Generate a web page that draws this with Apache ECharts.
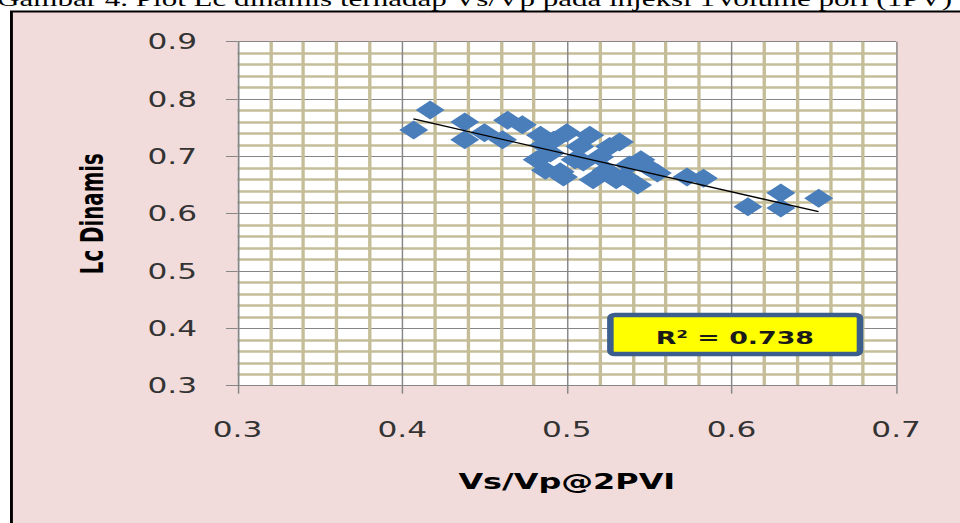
<!DOCTYPE html>
<html>
<head>
<meta charset="utf-8">
<script src="https://cdn.jsdelivr.net/npm/echarts@6/dist/echarts.min.js"></script>
<style>
html,body{margin:0;padding:0;overflow:hidden;background:#fff;width:960px;height:523px;}
#c{position:absolute;left:0;top:0;width:662px;height:523px;transform:scaleX(1.4502);transform-origin:0 0;}
</style>
</head>
<body>
<div id="c"></div>
<script>
const chartTitle = 'Gambar 4. Plot Lc dinamis terhadap Vs/Vp pada injeksi 1Volume pori (1PV)';
const xAxisName = 'Vs/Vp@2PVI';
const yAxisName = 'Lc Dinamis';
const r2Label = 'R\u00B2 = 0.738';

const xTicks = [0.3, 0.4, 0.5, 0.6, 0.7];
const yTicks = [0.3, 0.4, 0.5, 0.6, 0.7, 0.8, 0.9];

const xValues = [0.407, 0.417, 0.438, 0.438, 0.450, 0.464, 0.461, 0.473, 0.484, 0.482,
                 0.490, 0.486, 0.492, 0.500, 0.496, 0.498, 0.508, 0.505, 0.514, 0.520,
                 0.524, 0.516, 0.526, 0.530, 0.532, 0.538, 0.543, 0.545, 0.549, 0.555,
                 0.487, 0.510, 0.535, 0.573, 0.583, 0.610, 0.630, 0.630, 0.653];
const yValues = [0.746, 0.781, 0.760, 0.729, 0.741, 0.763, 0.729, 0.755, 0.737, 0.694,
                 0.706, 0.720, 0.728, 0.741, 0.673, 0.664, 0.717, 0.694, 0.737, 0.699,
                 0.676, 0.659, 0.717, 0.659, 0.725, 0.685, 0.650, 0.694, 0.682, 0.671,
                 0.676, 0.690, 0.665, 0.664, 0.662, 0.612, 0.636, 0.610, 0.627];

const trendX = [0.4068, 0.6529];
const trendY = [0.7652, 0.6035];

const points = xValues.map((x, i) => [x, yValues[i]]);
const trend = trendX.map((x, i) => [x, trendY[i]]);

const chart = echarts.init(document.getElementById('c'), null, {renderer: 'svg'});
chart.setOption({
  animation: false,
  grid: {left: 163.8, top: 41.7, width: 454.1, height: 344, show: true, backgroundColor: '#ffffff', borderWidth: 0},
  graphic: [
    {type: 'rect', z: -10, shape: {x: 7.9, y: 11.5, width: 720, height: 580},
     style: {fill: '#F2DCDB', stroke: '#000000', lineWidth: 2}},
    {type: 'text', z: -9, x: -2, y: 9.6,
     style: {text: chartTitle, font: '21.4px "Liberation Serif"', fill: '#000000', verticalAlign: 'bottom'}},
    {type: 'rect', z: 100, shape: {x: 420.9, y: 315, width: 172.1, height: 39, r: 3},
     style: {fill: '#FFFF00', stroke: '#3B5E8C', lineWidth: 4.5}},
    {type: 'text', z: 101, x: 506.7, y: 338,
     style: {text: r2Label, font: 'bold 18.5px "DejaVu Sans"', fill: '#1a1a1a', align: 'center', verticalAlign: 'middle'}}
  ],
  xAxis: {
    type: 'value', min: xTicks[0], max: xTicks[xTicks.length - 1], interval: 0.1,
    name: xAxisName, nameLocation: 'middle', nameGap: 84.6,
    nameTextStyle: {fontFamily: 'DejaVu Sans', fontWeight: 'bold', fontSize: 22, color: '#000'},
    axisLine: {show: true, onZero: false, lineStyle: {color: '#868686', width: 1}},
    axisTick: {show: true, length: 8, lineStyle: {color: '#868686'}},
    axisLabel: {margin: 32.5, fontFamily: 'DejaVu Sans', fontSize: 21.5, color: '#333', formatter: v => v.toFixed(1)},
    splitLine: {show: true, lineStyle: {color: '#868686', width: 1}},
    minorTick: {show: false, splitNumber: 5},
    minorSplitLine: {show: true, lineStyle: {color: '#C4BD97', width: 2.3}}
  },
  yAxis: {
    type: 'value', min: yTicks[0], max: yTicks[yTicks.length - 1], interval: 0.1,
    name: yAxisName, nameLocation: 'middle', nameGap: 89.5,
    nameTextStyle: {fontFamily: '"Liberation Sans Narrow","DejaVu Sans Condensed"', fontWeight: 'bold', fontSize: 22, color: '#000'},
    axisLine: {show: true, onZero: false, lineStyle: {color: '#868686', width: 1}},
    axisTick: {show: true, length: 8, lineStyle: {color: '#868686'}},
    axisLabel: {margin: 27.9, fontFamily: 'DejaVu Sans', fontSize: 21.5, color: '#333', formatter: v => v.toFixed(1)},
    splitLine: {show: true, lineStyle: {color: '#868686', width: 1}},
    minorTick: {show: false, splitNumber: 5},
    minorSplitLine: {show: true, lineStyle: {color: '#C4BD97', width: 2.7}}
  },
  series: [
    {type: 'scatter', data: points, symbol: 'diamond', symbolSize: [20, 19],
     itemStyle: {color: '#4A7EBB', opacity: 1}, z: 2},
    {type: 'line', data: trend, symbol: 'none', silent: true,
     lineStyle: {color: '#000000', width: 1.3}, z: 3}
  ]
});
</script>
</body>
</html>
